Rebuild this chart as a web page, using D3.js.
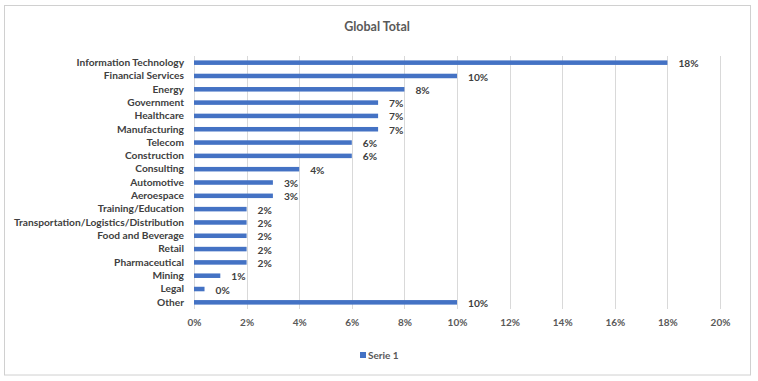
<!DOCTYPE html>
<html><head><meta charset="utf-8">
<script src="https://cdn.jsdelivr.net/npm/d3@7"></script>
<style>
html,body{margin:0;padding:0;background:#fff;}
svg text{font-family:Lato,"Liberation Sans",sans-serif;}
</style></head>
<body>
<svg id="chart" width="758" height="381"></svg>
<script>
const categories = ["Information Technology","Financial Services","Energy","Government","Healthcare","Manufacturing","Telecom","Construction","Consulting","Automotive","Aeroespace","Training/Education","Transportation/Logistics/Distribution","Food and Beverage","Retail","Pharmaceutical","Mining","Legal","Other"];
const values = [18,10,8,7,7,7,6,6,4,3,3,2,2,2,2,2,1,0.4,10];
const xTicks = [0,2,4,6,8,10,12,14,16,18,20];
const seriesName = "Serie 1";
const title = "Global Total";

const svg = d3.select("#chart");
svg.append("rect").attr("x",4.5).attr("y",5.5).attr("width",746).attr("height",369.5)
  .attr("fill","#fff").attr("stroke","#d0d0d0").attr("stroke-width",1);

const m = {left:194, right:720, top:56, bottom:309};
const x = d3.scaleLinear().domain([0,20]).range([m.left,m.right]);
const y = d3.scaleBand().domain(categories).range([m.top,m.bottom]).paddingInner(0.66).paddingOuter(0.33);

svg.append("text").attr("x",377).attr("y",31).attr("text-anchor","middle")
  .attr("font-size",12.5).attr("font-weight","bold").attr("fill","#595959").text(title);

// gridlines
svg.append("g").selectAll("line").data(xTicks).join("line")
  .attr("x1",d=>Math.round(x(d))+0.5).attr("x2",d=>Math.round(x(d))+0.5)
  .attr("y1",m.top).attr("y2",m.bottom).attr("stroke","#d9d9d9").attr("stroke-width",1);

// x axis labels
const xAxis = d3.axisBottom(x).tickValues(xTicks).tickFormat(d=>d+"%").tickSize(0).tickPadding(0);
const gx = svg.append("g").attr("transform",`translate(0,${m.bottom+10})`).call(xAxis);
gx.select(".domain").remove();
gx.selectAll("text").attr("font-size",10).attr("font-weight","bold").attr("fill","#595959")
  .attr("font-family","Lato,'Liberation Sans',sans-serif");

// y axis labels
const yAxis = d3.axisLeft(y).tickSize(0).tickPadding(0);
const gy = svg.append("g").attr("transform",`translate(${m.left-10},0)`).call(yAxis);
gy.select(".domain").remove();
gy.selectAll("text").attr("font-size",10.2).attr("font-weight","bold").attr("fill","#404040")
  .attr("font-family","Lato,'Liberation Sans',sans-serif");

// bars
svg.append("g").selectAll("rect").data(values).join("rect")
  .attr("x",x(0)).attr("y",(d,i)=>y(categories[i]))
  .attr("width",d=>x(d)-x(0)).attr("height",y.bandwidth()).attr("fill","#4472C4");

// value labels
svg.append("g").selectAll("text").data(values).join("text")
  .attr("x",d=>x(d)+11).attr("y",(d,i)=>y(categories[i])+y.bandwidth()/2+1)
  .attr("dy","0.35em").attr("font-size",10.2).attr("font-weight","bold").attr("fill","#404040")
  .text(d=>Math.round(d)+"%");

// legend
const lg = svg.append("g");
lg.append("rect").attr("x",360).attr("y",352).attr("width",6).attr("height",6).attr("fill","#4472C4");
lg.append("text").attr("x",368).attr("y",355).attr("dy","0.35em").attr("font-size",10)
  .attr("font-weight","bold").attr("fill","#595959").text(seriesName);
</script>
</body></html>
